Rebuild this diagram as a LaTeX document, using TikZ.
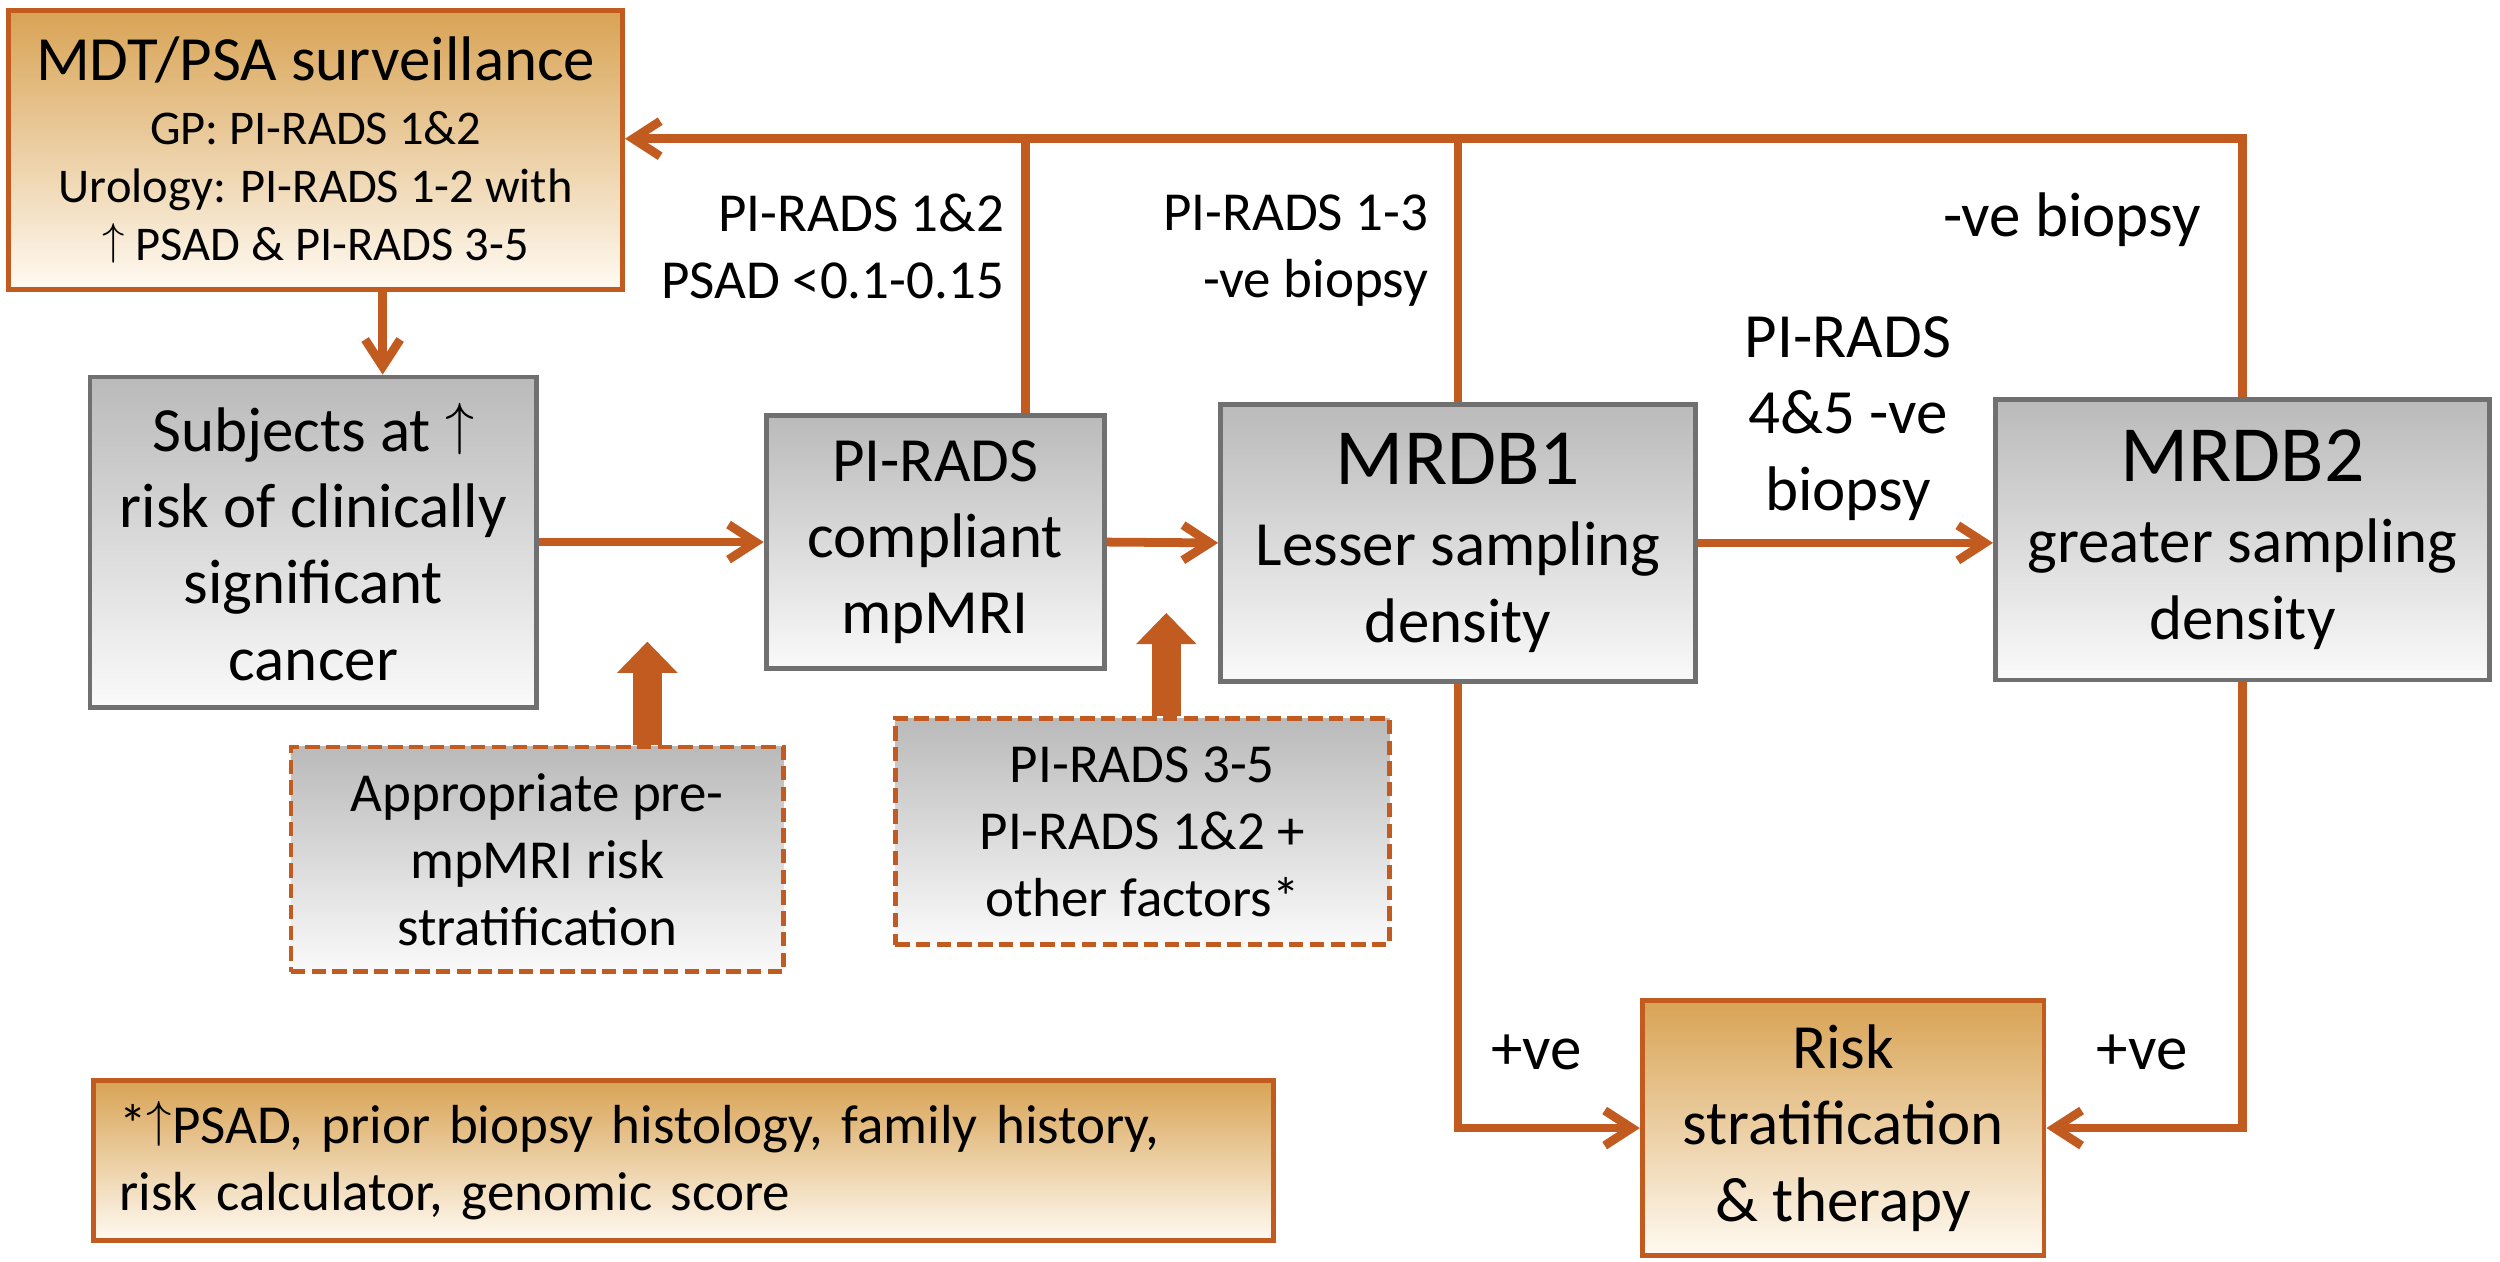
\documentclass[tikz,border=0pt]{standalone}
\usepackage{fontspec}
\setmainfont{Carlito}
\usetikzlibrary{arrows.meta}
\definecolor{linkorange}{RGB}{193,91,32}
\definecolor{boxgray}{RGB}{112,112,112}
\definecolor{graytop}{RGB}{186,186,186}
\definecolor{graybot}{RGB}{250,250,250}
\definecolor{orangetop}{RGB}{216,163,84}
\definecolor{orangebot}{RGB}{255,250,242}
\newcommand{\titlesize}{\fontsize{50}{60}\selectfont}
\newcommand{\bigsize}{\fontsize{39.5}{47.8}\selectfont}
\newcommand{\midsize}{\fontsize{34.5}{42}\selectfont}
\newcommand{\subsize}{\fontsize{30.4}{36.4}\selectfont}
\newcommand{\uparr}{\raisebox{0.12em}{\resizebox*{!}{0.82em}{$\uparrow$}}}
\tikzset{
  graybox/.style={draw=boxgray,line width=3pt,top color=graytop,bottom color=graybot,align=center,inner sep=0pt},
  orangebox/.style={draw=linkorange,line width=3pt,top color=orangetop,bottom color=orangebot,align=center,inner sep=0pt},
  dashbox/.style={graybox,draw=linkorange,line width=3pt,dash pattern=on 9pt off 4pt},
  feed/.style={draw=linkorange,line width=5.5pt},
  link/.style={feed,-{Straight Barb[length=17pt,width=22pt]}},
  fat/.style={draw=linkorange,line width=18.5pt,-{Triangle[length=19.5pt,width=38pt,line width=0pt]}},
  lab/.style={inner sep=0pt}
}
\begin{document}
\begin{tikzpicture}[x=1pt,y=-1pt]
    \useasboundingbox (0,0) rectangle (1568,791.5);
    % boxes
    \node[orangebox,font=\subsize,minimum width=385pt,minimum height=175pt] (mdt) at (198,94)
    {{\bigsize MDT/PSA surveillance}\\[3.6pt]GP: PI-RADS 1\&2\\Urology: PI-RADS 1-2 with\\\uparr{} PSAD \& PI-RADS 3-5};
    \node[graybox,font=\bigsize,minimum width=280pt,minimum height=207pt] (subj) at (196.5,340)
    {Subjects at \uparr\\risk of clinically\\significant\\cancer};
    \node[graybox,font=\bigsize,minimum width=212pt,minimum height=159pt] (mpmri) at (586.5,340)
    {PI-RADS\\compliant\\mpMRI};
    \node[graybox,font=\bigsize,minimum width=298pt,minimum height=174pt] (mrdb1) at (914.5,340.5)
    {{\titlesize MRDB1}\\[3pt]Lesser sampling\\density};
    \node[graybox,font=\bigsize,minimum width=310pt,minimum height=176pt] (mrdb2) at (1406.5,338.5)
    {{\titlesize MRDB2}\\[3pt]greater sampling\\density};
    \node[dashbox,font=\midsize,minimum width=309pt,minimum height=141pt] (approp) at (337,539)
    {Appropriate pre-\\mpMRI risk\\stratification};
    \node[dashbox,font=\midsize,minimum width=310pt,minimum height=142pt] (pirads35) at (716.5,521.5)
    {PI-RADS 3-5\\PI-RADS 1\&2 +\\other factors*};
    \node[orangebox,font=\midsize,minimum width=740pt,minimum height=100.5pt,text width=707pt,align=left,inner xsep=16.5pt] (note) at (428.5,728)
    {*\uparr PSAD, prior biopsy histology, family history,\\risk calculator, genomic score};
    \node[orangebox,font=\bigsize,minimum width=252pt,minimum height=160pt] (risk) at (1156,707.5)
    {Risk\\stratification\\\& therapy};
    % labels
    \node[lab,font=\midsize,align=right,anchor=base east] (lab12) at (630,187) {PI-RADS 1\&2\\PSAD <0.1-0.15};
    \node[lab,font=\midsize,align=right,anchor=base east] (lab13) at (896,186.5) {PI-RADS 1-3\\-ve biopsy};
    \node[lab,font=\bigsize,anchor=base west] (labneg) at (1218.5,148.5) {-ve biopsy};
    \node[lab,font=\bigsize,align=center,anchor=base] (lab45) at (1159,320) {PI-RADS\\4\&5 -ve\\biopsy};
    \node[lab,font=\bigsize,anchor=base west] (pos1) at (935,670.8) {+ve};
    \node[lab,font=\bigsize,anchor=base west] (pos2) at (1315,670.8) {+ve};
    % connectors
    \coordinate (fb) at (0,87);
    \coordinate (mdtout) at ([xshift=42pt]mdt.south);
    \coordinate (mpup) at ([xshift=56.5pt]mpmri.north);
    \coordinate (tipA) at (406,402.5);
    \coordinate (tipB) at (731.5,384.5);
    \draw[link] (mdtout) -- (mdtout |- subj.north);
    \draw[link] (subj.east) -- (mpmri.west);
    \draw[link] (mpmri.east) -- (mrdb1.west);
    \draw[link] (mrdb1.east) -- (mrdb1.east -| mrdb2.west);
    \draw[link] (mrdb2.north) -- (mrdb2.north |- fb) -- (mdt.east |- fb);
    \draw[feed] (mpup) -- (mpup |- fb);
    \draw[feed] (mrdb1.north) -- (mrdb1.north |- fb);
    \draw[link] (mrdb1.south) |- (risk.west);
    \draw[link] (mrdb2.south) |- (risk.east);
    \draw[fat] (approp.north -| tipA) -- (tipA);
    \draw[fat] (pirads35.north -| tipB) -- (tipB);
\end{tikzpicture}
\end{document}
